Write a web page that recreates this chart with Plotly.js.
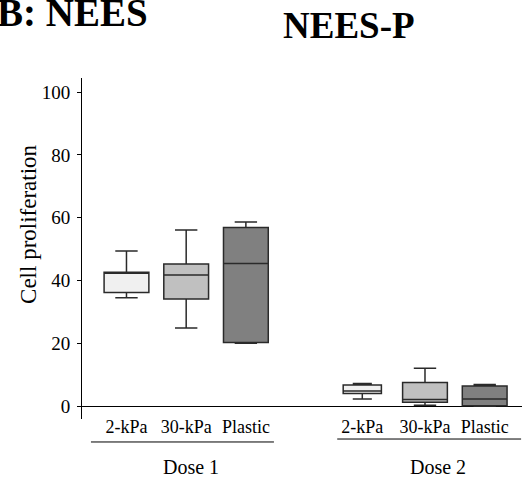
<!DOCTYPE html>
<html>
<head>
<meta charset="utf-8">
<script src="https://cdn.plot.ly/plotly-3.0.1.min.js"></script>
<style>html,body{margin:0;padding:0;background:#fff;}#chart{width:524px;height:482px;}</style>
</head>
<body>
<div id="chart"></div>
<script>
// Data
const tickLabels = ['2-kPa', '30-kPa', 'Plastic', '2-kPa', '30-kPa', 'Plastic'];
const positions  = [0, 1, 2, 3.95, 5, 6];
const lowerWhisker = [34.5, 24.9, 20.0, 2.3, 0.3, 0.0];
const q1Values     = [36.2, 34.1, 20.3, 4.0, 1.2, 0.1];
const medianValues = [42.4, 41.8, 45.4, 4.8, 2.1, 2.3];
const q3Values     = [42.6, 45.3, 56.9, 6.7, 7.5, 6.4];
const upperWhisker = [49.4, 56.1, 58.6, 7.2, 12.1, 6.9];
const groupNames = ['Dose 1', 'Dose 2'];
const yTicks = [0, 20, 40, 60, 80, 100];

// Styles
const fills = ['#f0f0f0', '#c0c0c0', '#808080', '#f0f0f0', '#c0c0c0', '#808080'];
const boxWidths = [0.75, 0.75, 0.75, 0.64, 0.75, 0.75];
const FONT = 'Liberation Serif';

const traces = positions.map((p, i) => ({
  type: 'box',
  x: [p],
  q1: [q1Values[i]],
  median: [medianValues[i]],
  q3: [q3Values[i]],
  lowerfence: [lowerWhisker[i]],
  upperfence: [upperWhisker[i]],
  width: boxWidths[i],
  whiskerwidth: 0.5,
  fillcolor: fills[i],
  line: {color: '#2a2a2a', width: 1.5},
  boxpoints: false,
  hoverinfo: 'skip',
  showlegend: false
}));

const layout = {
  width: 524, height: 482,
  margin: {l: 82, r: 2, t: 78, b: 63},
  paper_bgcolor: '#fff', plot_bgcolor: '#fff',
  font: {family: FONT, color: '#000', size: 19},
  showlegend: false,
  xaxis: {
    range: [-0.745, 6.625],
    tickvals: positions, ticktext: tickLabels,
    showline: false, showgrid: false, zeroline: false, ticks: '',
    ticklabelstandoff: -5,
    tickfont: {family: FONT, size: 18, color: '#000'},
    fixedrange: true
  },
  yaxis: {
    range: [-4.1, 104.5],
    tickvals: yTicks,
    showline: true, linecolor: '#000', linewidth: 1,
    ticks: 'outside', ticklen: 4, tickcolor: '#000', tickwidth: 1,
    ticklabelstandoff: 3,
    showgrid: false,
    zeroline: true, zerolinecolor: '#000', zerolinewidth: 1,
    tickfont: {family: FONT, size: 19, color: '#000'},
    fixedrange: true
  },
  shapes: [
    {type: 'line', xref: 'x', yref: 'paper', x0: -0.595, x1: 2.47, y0: -0.0674, y1: -0.0674, line: {color: '#000', width: 1}},
    {type: 'line', xref: 'x', yref: 'paper', x0: 3.53, x1: 6.61, y0: -0.0587, y1: -0.0587, line: {color: '#000', width: 1}}
  ],
  annotations: [
    {text: groupNames[0], xref: 'x', yref: 'paper', x: 1.08, y: -0.1408, showarrow: false, xanchor: 'center', yanchor: 'middle', font: {family: FONT, size: 20, color: '#000'}},
    {text: groupNames[1], xref: 'x', yref: 'paper', x: 5.21, y: -0.1408, showarrow: false, xanchor: 'center', yanchor: 'middle', font: {family: FONT, size: 20, color: '#000'}},
    {text: 'Cell proliferation', xref: 'paper', yref: 'paper', x: -0.1205, y: 0.572, textangle: -90, showarrow: false, xanchor: 'center', yanchor: 'middle', font: {family: FONT, size: 23, color: '#000'}},
    {text: '<b>B: NEES</b>', xref: 'paper', yref: 'paper', x: 0.1545, y: 1.192, showarrow: false, xanchor: 'right', yanchor: 'middle', font: {family: FONT, size: 39, color: '#000'}},
    {text: '<b>NEES-P</b>', xref: 'paper', yref: 'paper', x: 0.607, y: 1.154, showarrow: false, xanchor: 'center', yanchor: 'middle', font: {family: FONT, size: 37, color: '#000'}}
  ]
};

Plotly.newPlot('chart', traces, layout, {displayModeBar: false, staticPlot: true});
</script>
</body>
</html>
